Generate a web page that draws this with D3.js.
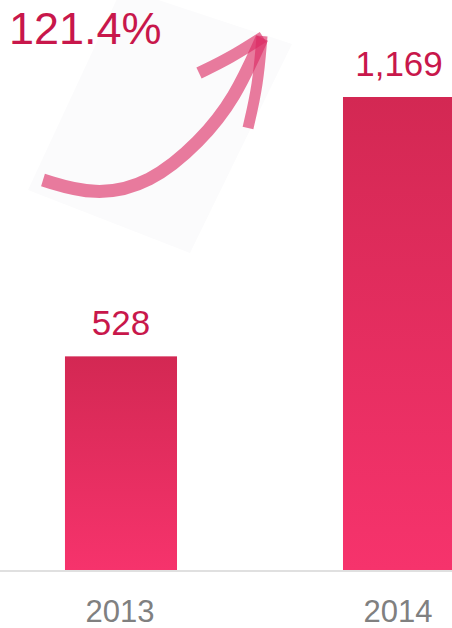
<!DOCTYPE html>
<html><head><meta charset="utf-8">
<script src="https://cdn.jsdelivr.net/npm/d3@7"></script>
<style>html,body{margin:0;padding:0;background:#fff;overflow:hidden}svg{display:block}</style>
</head><body>
<script>
const categories = ["2013", "2014"];
const values = [528, 1169];
const valueLabels = ["528", "1,169"];
const growthLabel = "121.4%";

const W = 452, H = 628;
const svg = d3.select("body").append("svg").attr("width", W).attr("height", H);
const font = "Liberation Sans, Arial, Helvetica, sans-serif";

const defs = svg.append("defs");
const g = defs.append("linearGradient").attr("id", "barGrad").attr("x1", 0).attr("y1", 0).attr("x2", 0).attr("y2", 1);
g.append("stop").attr("offset", "0%").attr("stop-color", "#d32853");
g.append("stop").attr("offset", "100%").attr("stop-color", "#f6336c");

const x = d3.scaleBand().domain(categories).range([-101, 621]).paddingInner(0.597).paddingOuter(0.597);
const y = d3.scaleLinear().domain([0, 1169]).range([570, 97]);

// faint paper note behind arrow
svg.append("polygon")
  .attr("points", "122,-12 292,44 190,253 28,190")
  .attr("fill", "#fbfbfc");

// arrow
const arrowColor = "#dc2a62";
const line = d3.line().curve(d3.curveBasis);
const curvePts = [[43,180],[95,196],[150,184],[200,142],[235,98],[262,38]];
svg.append("path").attr("d", line(curvePts)).attr("fill", "none")
  .attr("stroke", arrowColor).attr("stroke-opacity", 0.62).attr("stroke-width", 13).attr("stroke-linecap", "butt");
svg.append("path").attr("d", line([[199,73],[230,58],[263,37]])).attr("fill", "none")
  .attr("stroke", arrowColor).attr("stroke-opacity", 0.62).attr("stroke-width", 12);
svg.append("path").attr("d", line([[262,36],[258,85],[248,128]])).attr("fill", "none")
  .attr("stroke", arrowColor).attr("stroke-opacity", 0.62).attr("stroke-width", 11);

// bars
svg.selectAll("rect.bar").data(categories).join("rect").attr("class", "bar")
  .attr("x", d => x(d)).attr("width", x.bandwidth())
  .attr("y", (d, i) => y(values[i])).attr("height", (d, i) => y(0) - y(values[i]))
  .attr("fill", "url(#barGrad)");

// baseline
svg.append("line").attr("x1", 0).attr("x2", W).attr("y1", 571).attr("y2", 571)
  .attr("stroke", "#e0e0e0").attr("stroke-width", 2);

// value labels
svg.selectAll("text.val").data(categories).join("text").attr("class", "val")
  .attr("x", d => x(d) + x.bandwidth() / 2)
  .attr("y", (d, i) => y(values[i]) - 21)
  .attr("text-anchor", "middle").attr("font-family", font).attr("font-size", 35)
  .attr("fill", "#c8174b").text((d, i) => valueLabels[i]);

// category labels
svg.selectAll("text.cat").data(categories).join("text").attr("class", "cat")
  .attr("x", d => x(d) + x.bandwidth() / 2 - 1)
  .attr("y", 622)
  .attr("text-anchor", "middle").attr("font-family", font).attr("font-size", 31)
  .attr("fill", "#808080").text(d => d);

// growth label
svg.append("text").attr("x", 9).attr("y", 44).attr("font-family", font).attr("font-size", 45)
  .attr("fill", "#c8174b").text(growthLabel);
</script>
</body></html>
